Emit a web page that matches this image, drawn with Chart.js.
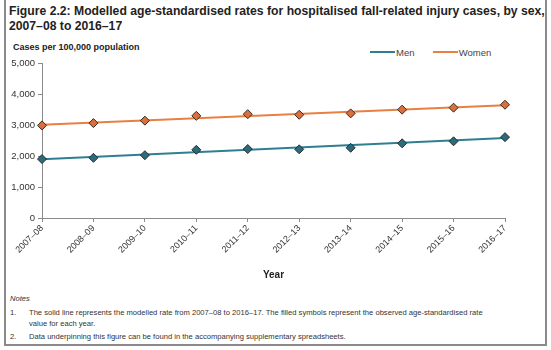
<!DOCTYPE html>
<html>
<head>
<meta charset="utf-8">
<script src="https://cdn.jsdelivr.net/npm/chart.js@4"></script>
<style>
body{margin:0;background:#fff;font-family:"Liberation Sans",Arial,sans-serif;}
#frame{position:absolute;left:4px;top:-2px;width:539px;height:344px;border:2px solid #8a8a8a;}
#title{position:absolute;left:9px;top:4px;font-size:12.2px;font-weight:bold;color:#222;line-height:15px;}
#ytitle{position:absolute;left:13px;top:42px;font-size:9px;font-weight:bold;color:#222;}
#legend{position:absolute;left:370px;top:46px;font-size:9.5px;color:#444;}
#legend span{display:inline-block;vertical-align:middle;}
.sw{width:25px;height:2px;margin-right:1px;}
#notes{position:absolute;left:10px;top:293px;font-size:7.6px;color:#333;line-height:11px;}
#notes .n{position:absolute;left:0;}
#notes .t{padding-left:19px;}
#wrap{position:absolute;left:0;top:55px;width:551px;height:235px;}
</style>
</head>
<body>
<div id="frame"></div>
<div id="title">Figure 2.2: Modelled age-standardised rates for hospitalised fall-related injury cases, by sex,<br>2007–08 to 2016–17</div>
<div id="ytitle">Cases per 100,000 population</div>
<div id="legend">
<span class="sw" style="background:#2f7f93"></span><span>Men</span>
<span style="width:13px"></span>
<span class="sw" style="background:#e8803f"></span><span>Women</span>
</div>
<div id="wrap"><canvas id="myChart"></canvas></div>
<div id="notes">
<div style="font-style:italic">Notes</div>
<div style="position:relative;margin-top:3px"><span class="n">1.</span><div class="t">The solid line represents the modelled rate from 2007–08 to 2016–17. The filled symbols represent the observed age-standardised rate<br>value for each year.</div></div>
<div style="position:relative;margin-top:2px"><span class="n">2.</span><div class="t">Data underpinning this figure can be found in the accompanying supplementary spreadsheets.</div></div>
</div>
<script>
var years = ["2007–08","2008–09","2009–10","2010–11","2011–12","2012–13","2013–14","2014–15","2015–16","2016–17"];
var menObserved = [1910,1950,2035,2210,2235,2225,2275,2420,2485,2620];
var womenObserved = [3000,3075,3155,3310,3365,3345,3390,3510,3575,3670];
var menModelStart = 1900, menModelEnd = 2590;
var womenModelStart = 3020, womenModelEnd = 3650;
var yTicks = [0,1000,2000,3000,4000,5000];

var menColor = "#2f7f93", womenColor = "#e8803f";

new Chart("myChart",{
    type:"line",
    data:{
        labels:years,
        datasets:[
            {label:"Men",data:[{x:years[0],y:menModelStart},{x:years[years.length-1],y:menModelEnd}],
             borderColor:menColor,borderWidth:2,pointRadius:0,order:2},
            {label:"Women",data:[{x:years[0],y:womenModelStart},{x:years[years.length-1],y:womenModelEnd}],
             borderColor:womenColor,borderWidth:2,pointRadius:0,order:2},
            {label:"Men observed",data:menObserved,showLine:false,pointStyle:"rectRot",pointRadius:4.5,
             pointBackgroundColor:"#2a6c7c",pointBorderColor:"#2b2b2b",pointBorderWidth:1,order:1},
            {label:"Women observed",data:womenObserved,showLine:false,pointStyle:"rectRot",pointRadius:4.5,
             pointBackgroundColor:"#d9703d",pointBorderColor:"#3a2a20",pointBorderWidth:1,order:1}
        ]
    },
    options:{
        responsive:true,
        maintainAspectRatio:false,
        animation:false,
        layout:{padding:{left:0,right:46,top:4,bottom:0}},
        plugins:{legend:{display:false},tooltip:{enabled:false}},
        scales:{
            x:{
                type:"category",
                offset:false,
                grid:{drawOnChartArea:false,drawTicks:true,tickLength:4,color:"#8a8a8a"},
                border:{color:"#8a8a8a",width:1},
                ticks:{minRotation:45,maxRotation:45,autoSkip:false,padding:1,color:"#333",
                       font:{family:"Liberation Sans",size:9}},
                title:{display:true,text:"Year",color:"#222",padding:{top:0,bottom:9},
                       font:{family:"Liberation Sans",size:10,weight:"bold"}},
                afterFit:function(s){s.height=72;}
            },
            y:{
                min:0,max:5000,
                afterBuildTicks:function(s){s.ticks=yTicks.map(function(v){return {value:v};});},
                grid:{drawOnChartArea:false,drawTicks:true,tickLength:4,color:"#8a8a8a"},
                border:{color:"#8a8a8a",width:1},
                ticks:{padding:3,color:"#333",font:{family:"Liberation Sans",size:9.5},
                       callback:function(v){return v.toLocaleString("en-AU");}},
                afterFit:function(s){s.width=42;}
            }
        }
    }
});
</script>
</body>
</html>
